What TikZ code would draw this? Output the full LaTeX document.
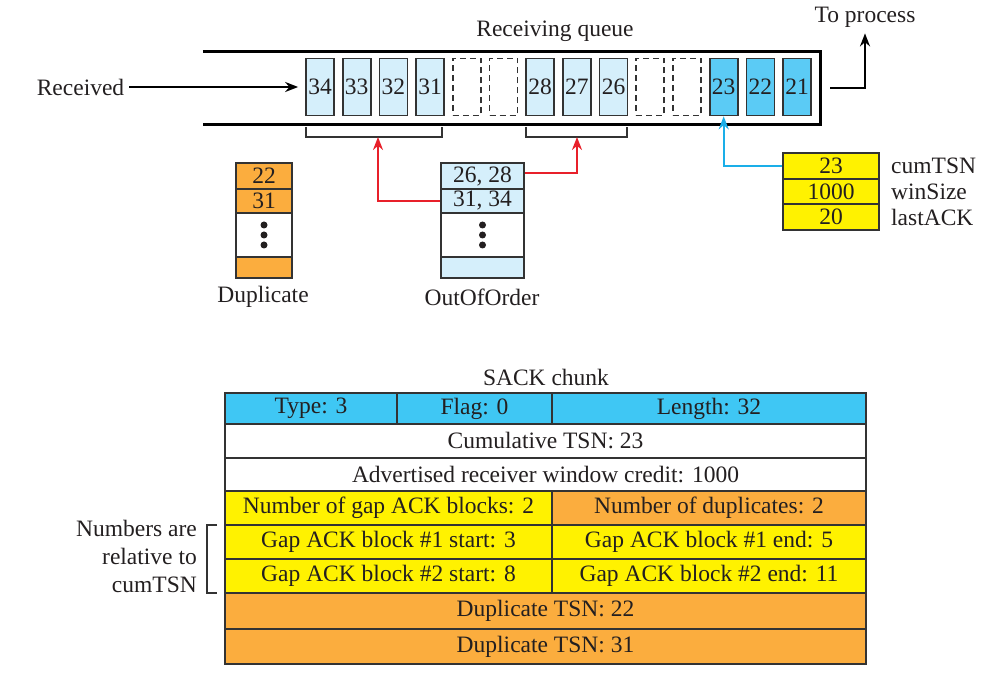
\documentclass[tikz,border=0pt]{standalone}
\usepackage{fontspec}
\setmainfont{Liberation Serif}
\usetikzlibrary{arrows.meta,calc}
\definecolor{qlight}{HTML}{D5EFFB}
\definecolor{qdark}{HTML}{5BCBF5}
\definecolor{hblue}{HTML}{3FC7F4}
\definecolor{ylw}{HTML}{FFF200}
\definecolor{org}{HTML}{FBAD3E}
\definecolor{redl}{HTML}{E8202A}
\definecolor{cyanl}{HTML}{1AAEE8}
\definecolor{linec}{HTML}{333333}
\definecolor{txt}{HTML}{231F20}
\begin{document}
\begin{tikzpicture}[x=1pt,y=-1pt,
  every node/.style={font=\fontsize{23.5}{28}\selectfont, text=txt},
  qbox/.style={draw=linec, line width=1.7pt, minimum width=28pt, minimum height=57pt, inner sep=0pt},
  qold/.style={qbox, fill=qlight},
  qdone/.style={qbox, fill=qdark},
  qgap/.style={qbox, dash pattern=on 6pt off 4pt},
  rail/.style={draw=black, line width=2.8pt},
  brk/.style={draw=linec, line width=1.6pt},
  arr/.style={draw=black, line width=2.3pt, -{Stealth[length=13pt,width=10pt]}},
  redarr/.style={draw=redl, line width=2.3pt, -{Stealth[length=13pt,width=10pt]}},
  bluearr/.style={draw=cyanl, line width=2.3pt, -{Stealth[length=13pt,width=10pt]}},
  cell/.style={draw=linec, line width=1.8pt, inner sep=0pt},
  lbl/.style={inner sep=0pt}]
\useasboundingbox (0,0) rectangle (983,676);

% ---------- receiving queue ----------
\node[inner sep=0pt, minimum width=617pt, minimum height=72pt] (queue) at (511.5,88) {};
\draw[rail] (queue.north west) -- (queue.north east) -- (queue.south east) -- (queue.south west);
\node[lbl] (qtitle) at (555,31) {Receiving queue};

\foreach \lab/\sty [count=\i from 0] in
  {34/qold,33/qold,32/qold,31/qold,{}/qgap,{}/qgap,28/qold,27/qold,26/qold,{}/qgap,{}/qgap,23/qdone,22/qdone,21/qdone}
  \node[\sty] (q\i) at ({320+36.7*\i},87) {\lab};

\node[lbl] (rec) at (80.5,87) {Received};
\draw[arr, shorten >=7pt] ([xshift=5pt]rec.east) -- (q0.west);

\node[lbl] (proc) at (865,17) {To process};
\draw[arr, shorten >=6pt] ([xshift=10pt]queue.east) -| (proc.south);

% brackets under the queue
\draw[brk] (306,127) -- (306,137) -- (442,137) -- (442,127);
\draw[brk] (526,127) -- (526,137) -- (627,137) -- (627,127);
\coordinate (br1) at (378,137);
\coordinate (br2) at (577,137);

% ---------- Duplicate stack ----------
\node[cell, fill=org, minimum width=56pt, minimum height=26pt] (d1) at (264,176) {22};
\node[cell, fill=org, minimum width=56pt, minimum height=24pt] (d2) at (264,201) {31};
\node[cell, fill=white, minimum width=56pt, minimum height=44pt] (d3) at (264,235) {};
\node[cell, fill=org, minimum width=56pt, minimum height=21pt] (d4) at (264,267.5) {};
\node[lbl] (dlab) at (263,297) {Duplicate};
\foreach \dy in {-10,0,10} \fill[txt] ($(d3.center)+(0,\dy)$) circle (3.5pt);

% ---------- OutOfOrder stack ----------
\node[cell, fill=qlight, minimum width=83pt, minimum height=26pt] (o1) at (482.5,176) {26, 28};
\node[cell, fill=qlight, minimum width=83pt, minimum height=24pt] (o2) at (482.5,201) {31, 34};
\node[cell, fill=white, minimum width=83pt, minimum height=44pt] (o3) at (482.5,235) {};
\node[cell, fill=qlight, minimum width=83pt, minimum height=21pt] (o4) at (482.5,267.5) {};
\node[lbl] (olab) at (482,297) {OutOfOrder};
\foreach \dy in {-10,0,10} \fill[txt] ($(o3.center)+(0,\dy)$) circle (3.5pt);

\draw[redarr] (o2.west) -| (br1);
\draw[redarr] ([yshift=3pt]o1.east) -| (br2);

% ---------- control variables ----------
\node[cell, fill=ylw, minimum width=96pt, minimum height=25.7pt] (c1) at (831,165.8) {23};
\node[cell, fill=ylw, minimum width=96pt, minimum height=25.7pt] (c2) at (831,191.5) {1000};
\node[cell, fill=ylw, minimum width=96pt, minimum height=25.7pt] (c3) at (831,217.2) {20};
\node[lbl, anchor=west] (c1l) at (891,165.8) {cumTSN};
\node[lbl, anchor=west] (c2l) at (891,191.5) {winSize};
\node[lbl, anchor=west] (c3l) at (891,217.2) {lastACK};
\draw[bluearr] (c1.west) -| (q11.south);

% ---------- SACK chunk ----------
\node[lbl] (sack) at (546,377) {SACK chunk};
\node[cell, fill=hblue, minimum width=172pt, minimum height=31pt] (t1) at (311,408.5) {Type: 3};
\node[cell, fill=hblue, minimum width=155pt, minimum height=31pt] (t2) at (474.5,408.5) {Flag: 0};
\node[cell, fill=hblue, minimum width=314pt, minimum height=31pt] (t3) at (709,408.5) {Length: 32};
\node[cell, fill=white, minimum width=641pt, minimum height=34pt] (t4) at (545.5,441) {Cumulative TSN: 23};
\node[cell, fill=white, minimum width=641pt, minimum height=33pt] (t5) at (545.5,474.5) {Advertised receiver window credit: 1000};
\node[cell, fill=ylw, minimum width=327pt, minimum height=34pt] (t6) at (388.5,508) {Number of gap ACK blocks: 2};
\node[cell, fill=org, minimum width=314pt, minimum height=34pt] (t7) at (709,508) {Number of duplicates: 2};
\node[cell, fill=ylw, minimum width=327pt, minimum height=34pt] (t8) at (388.5,542) {Gap ACK block \#1 start: 3};
\node[cell, fill=ylw, minimum width=314pt, minimum height=34pt] (t9) at (709,542) {Gap ACK block \#1 end: 5};
\node[cell, fill=ylw, minimum width=327pt, minimum height=34pt] (t10) at (388.5,576) {Gap ACK block \#2 start: 8};
\node[cell, fill=ylw, minimum width=314pt, minimum height=34pt] (t11) at (709,576) {Gap ACK block \#2 end: 11};
\node[cell, fill=org, minimum width=641pt, minimum height=36pt] (t12) at (545.5,611) {Duplicate TSN: 22};
\node[cell, fill=org, minimum width=641pt, minimum height=35pt] (t13) at (545.5,646.5) {Duplicate TSN: 31};

\draw[brk] (217,525) -- (207,525) -- (207,593) -- (217,593);
\node[lbl, anchor=east, align=right] (note) at (197,556) {Numbers are\\relative to\\cumTSN};
\end{tikzpicture}
\end{document}
